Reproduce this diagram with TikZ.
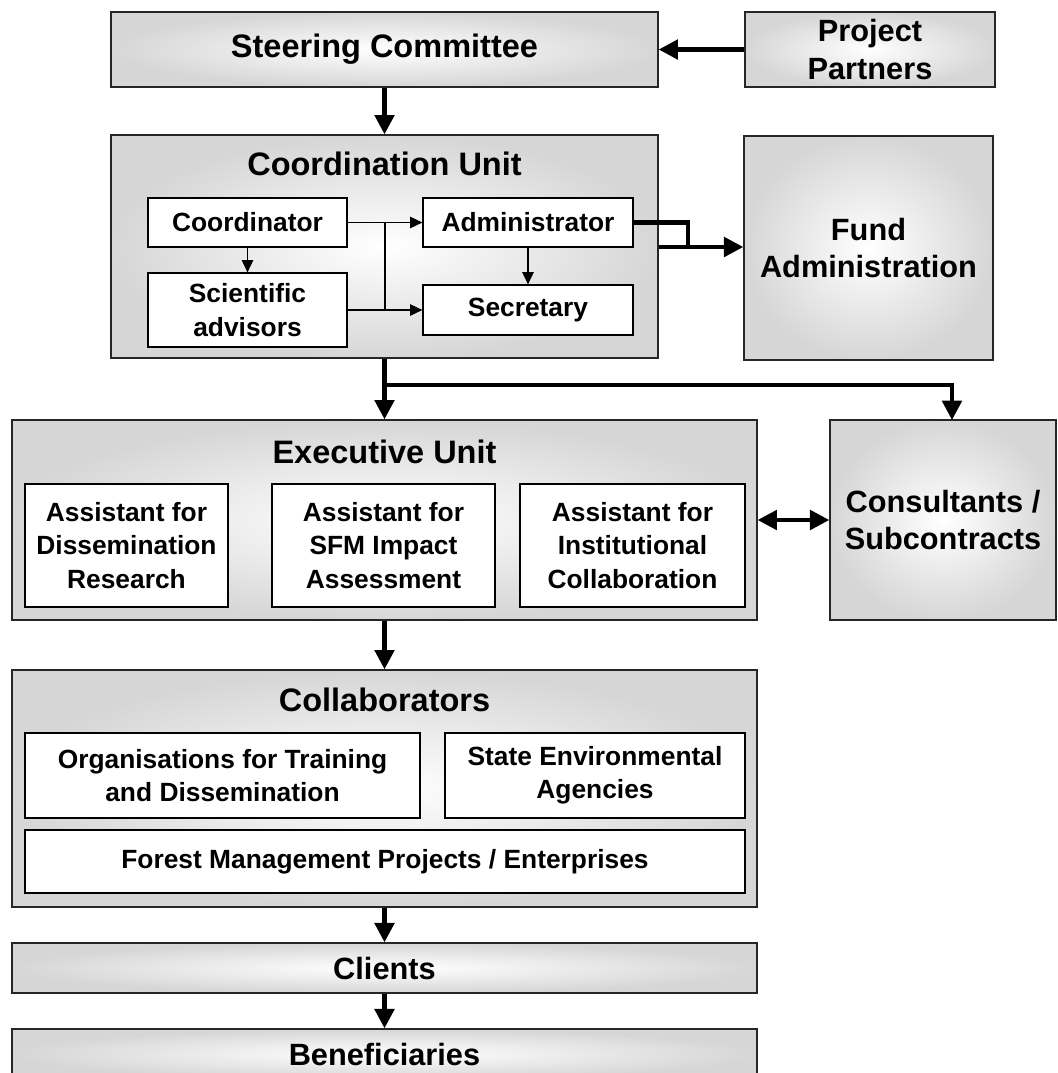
\documentclass[tikz,border=0pt]{standalone}
\usepackage{fontspec}
\setmainfont{Liberation Sans}
\usepackage{tikz}
\usetikzlibrary{arrows.meta}
\usetikzlibrary{positioning}
\tikzset{
    bigbox/.style = {rectangle, draw=black!85, line width=0.8pt, inner color=white, outer color=black!16, align=center, inner sep=0pt, font=\bfseries\fontsize{17.5}{21.5}\selectfont},
    subbox/.style = {rectangle, draw=black, line width=0.7pt, fill=white, align=center, inner sep=0pt, font=\bfseries\fontsize{15}{19}\selectfont},
    unittitle/.style = {inner sep=0pt, font=\bfseries\fontsize{18.5}{22}\selectfont},
}

\begin{document}
\begin{tikzpicture}[
	x=0.02cm, y=-0.02cm,
	thick
]
\tikzset{
    edgeb/.style = {-{Triangle[length=11pt,width=11pt]}, line width=2.4pt},
    edgebb/.style = {{Triangle[length=11pt,width=11pt]}-{Triangle[length=11pt,width=11pt]}, line width=2.4pt},
    linkb/.style = {-, line width=2.4pt},
    edgen/.style = {-{Triangle[length=7pt,width=6.5pt]}, line width=0.8pt},
    linkn/.style = {-, line width=0.8pt},
}
\useasboundingbox (0,0) rectangle (1058,1073);
\clip (0,0) rectangle (1058,1073);
%
\node[bigbox, minimum width=10.94cm, minimum height=1.5cm, font=\bfseries\fontsize{18.5}{22}\selectfont] at (384.5,49.5) (steer) {Steering Committee};
\node[bigbox, minimum width=5.0cm, minimum height=1.5cm] at (870,49.5) (partners) {Project\\Partners};
%
\node[bigbox, minimum width=10.94cm, minimum height=4.46cm] at (384.5,246.5) (coordU) {};
\node[unittitle] at (384.5,164) (coordT) {Coordination Unit};
\node[subbox, minimum width=3.98cm, minimum height=0.98cm] at (247.5,222.5) (coordinator) {Coordinator};
\node[subbox, minimum width=3.98cm, minimum height=1.48cm] at (247.5,310) (advisors) {Scientific\\advisors};
\node[subbox, minimum width=4.2cm, minimum height=0.98cm] at (528,222.5) (admin) {Administrator};
\node[subbox, minimum width=4.2cm, minimum height=1.0cm] at (528,310) (secretary) {Secretary};
\node[bigbox, minimum width=4.98cm, minimum height=4.48cm] at (868.5,248) (fund) {Fund\\Administration};
%
\node[bigbox, minimum width=14.9cm, minimum height=4.0cm] at (384.5,520) (exec) {};
\node[unittitle] at (384.5,452) (execT) {Executive Unit};
\node[subbox, minimum width=4.06cm, minimum height=2.46cm] at (126.5,545.5) (asst1) {Assistant for\\Dissemination\\Research};
\node[subbox, minimum width=4.46cm, minimum height=2.46cm] at (383.5,545.5) (asst2) {Assistant for\\SFM Impact\\Assessment};
\node[subbox, minimum width=4.5cm, minimum height=2.46cm] at (632.5,545.5) (asst3) {Assistant for\\Institutional\\Collaboration};
\node[bigbox, minimum width=4.52cm, minimum height=4.0cm] at (943,520) (consult) {Consultants /\\Subcontracts};
%
\node[bigbox, minimum width=14.9cm, minimum height=4.74cm] at (384.5,788.5) (collab) {};
\node[unittitle] at (384.5,700) (collabT) {Collaborators};
\node[subbox, minimum width=7.9cm, minimum height=1.7cm] at (222.5,775.5) (orgs) {Organisations for Training\\and Dissemination};
\node[subbox, minimum width=6.0cm, minimum height=1.7cm] at (595,775.5) (agencies) {State Environmental\\Agencies};
\node[subbox, minimum width=14.4cm, minimum height=1.26cm] at (385,861.5) (forest) {Forest Management Projects / Enterprises};
%
\node[bigbox, minimum width=14.9cm, minimum height=1.0cm] at (384.5,968) (clients) {Clients};
\node[bigbox, minimum width=14.9cm, minimum height=1.0cm] at (384.5,1054) (benef) {Beneficiaries};
%
\coordinate (j1) at (385,222.5);
\coordinate (j2) at (385,310);
\coordinate (bend) at (688,247);
\coordinate (split) at (384.5,385);
\coordinate (ctop) at (952,420);
%
\draw[edgeb] (partners) -- (steer);
\draw[edgeb] (steer) -- (coordU);
%
\draw[edgen] (coordinator) -- (advisors);
\draw[edgen] (admin) -- (secretary);
\draw[edgen] (coordinator) -- (admin);
\draw[edgen] (advisors) -- (secretary);
\draw[linkn] (j1) -- (j2);
%
\draw[linkb] (admin.east) -| (bend);
\draw[edgeb] (coordU.east |- bend) -- (fund.west |- bend);
%
\draw[edgeb] (coordU) -- (exec);
\draw[edgeb] (split) -| (ctop);
\draw[edgebb] (exec) -- (consult);
%
\draw[edgeb] (exec) -- (collab);
\draw[edgeb] (collab) -- (clients);
\draw[edgeb] (clients) -- (benef);
\end{tikzpicture}
\end{document}
